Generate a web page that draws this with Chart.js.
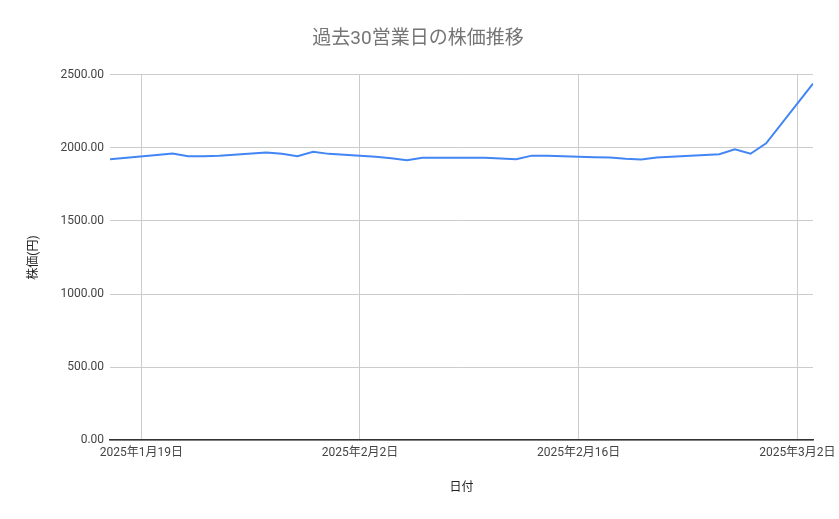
<!DOCTYPE html>
<html>
<head>
<meta charset="utf-8">
<script src="https://cdn.jsdelivr.net/npm/chart.js@4"></script>
<style>
    html, body { margin: 0; padding: 0; background: #fff; }
    #wrap { width: 839px; height: 519px; }
</style>
</head>
<body>
<div id="wrap"><canvas id="stockChart"></canvas></div>
<script>
// 過去30営業日 (祝日 2/11, 2/24 を除く)
const tradeDates = [
    "2025-01-17", "2025-01-20", "2025-01-21", "2025-01-22", "2025-01-23", "2025-01-24",
    "2025-01-27", "2025-01-28", "2025-01-29", "2025-01-30", "2025-01-31",
    "2025-02-03", "2025-02-04", "2025-02-05", "2025-02-06", "2025-02-07",
    "2025-02-10", "2025-02-12", "2025-02-13", "2025-02-14",
    "2025-02-17", "2025-02-18", "2025-02-19", "2025-02-20", "2025-02-21",
    "2025-02-25", "2025-02-26", "2025-02-27", "2025-02-28",
    "2025-03-03"
];
const closePrices = [
    1923, 1952, 1961, 1943, 1943, 1947,
    1968, 1960, 1943, 1973, 1959,
    1940, 1929, 1916, 1932, 1932,
    1932, 1923, 1947, 1947,
    1936, 1934, 1926, 1921, 1934,
    1957, 1990, 1960, 2031,
    2440
];
const xTickDates = ["2025-01-19", "2025-02-02", "2025-02-16", "2025-03-02"];
const yTicks = [0, 500, 1000, 1500, 2000, 2500];

const toTime = (s) => {
    const [y, m, d] = s.split("-").map(Number);
    return Date.UTC(y, m - 1, d);
};
const jpDate = (t) => {
    const d = new Date(t);
    return d.getUTCFullYear() + "年" + (d.getUTCMonth() + 1) + "月" + d.getUTCDate() + "日";
};

const points = tradeDates.map((d, i) => ({ x: toTime(d), y: closePrices[i] }));

const ctx = document.getElementById("stockChart").getContext("2d");
new Chart(ctx, {
    type: "line",
    data: {
        datasets: [{
            label: "株価",
            data: points,
            borderColor: "#4285f4",
            borderWidth: 2,
            pointRadius: 0,
            tension: 0,
            fill: false,
        }]
    },
    options: {
        responsive: true,
        maintainAspectRatio: false,
        animation: false,
        layout: { padding: { top: 8, right: 26, bottom: 20, left: 23 } },
        plugins: {
            legend: { display: false },
            tooltip: { enabled: false },
            title: {
                display: true,
                text: "過去30営業日の株価推移",
                color: "#757575",
                font: { family: "Roboto, 'Noto Sans CJK JP', sans-serif", size: 19, weight: "normal" },
                padding: { top: 20, bottom: 24 },
            },
        },
        scales: {
            x: {
                type: "linear",
                min: toTime(tradeDates[0]),
                max: toTime(tradeDates[tradeDates.length - 1]),
                afterBuildTicks: (axis) => {
                    axis.ticks = xTickDates.map((d) => ({ value: toTime(d) }));
                },
                // let the last date label hang over the plot edge
                afterFit: (axis) => {
                    axis.paddingRight = 0;
                },
                ticks: {
                    callback: (v) => jpDate(v),
                    color: "#444",
                    font: { family: "Roboto, 'Noto Sans CJK JP', sans-serif", size: 12 },
                    maxRotation: 0,
                    padding: 6,
                },
                grid: { color: "#cccccc", drawTicks: false },
                border: { display: true, color: "#333", width: 1.5 },
                title: {
                    display: true,
                    text: "日付",
                    color: "#222",
                    font: { family: "Roboto, 'Noto Sans CJK JP', sans-serif", size: 12 },
                    padding: { top: 14 },
                },
            },
            y: {
                min: 0,
                max: 2500,
                afterBuildTicks: (axis) => {
                    axis.ticks = yTicks.map((v) => ({ value: v }));
                },
                ticks: {
                    callback: (v) => v.toFixed(2),
                    color: "#444",
                    font: { family: "Roboto, 'Noto Sans CJK JP', sans-serif", size: 12 },
                    padding: 6,
                },
                grid: { color: "#cccccc", drawTicks: false },
                border: { display: false },
                title: {
                    display: true,
                    text: "株価(円)",
                    color: "#222",
                    font: { family: "Roboto, 'Noto Sans CJK JP', sans-serif", size: 12 },
                    padding: { bottom: 13 },
                },
            },
        },
    },
});
</script>
</body>
</html>
